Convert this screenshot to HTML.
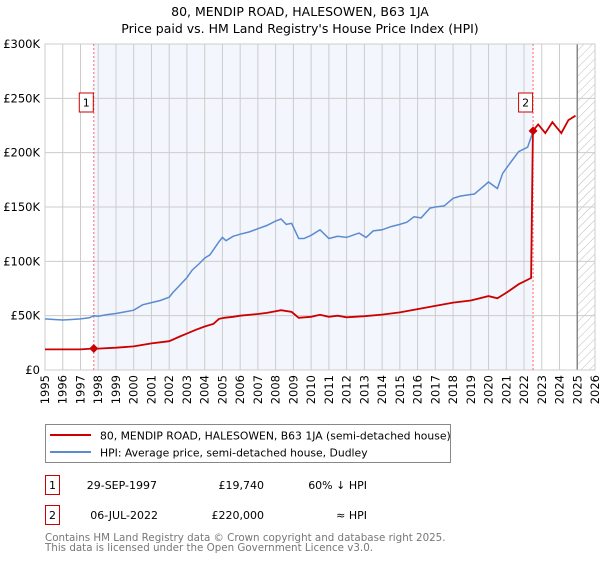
<!DOCTYPE html>
<html><head><meta charset="utf-8">
<style>
body{margin:0;background:#fff;font-family:"Liberation Sans","DejaVu Sans",sans-serif;}
svg text{font-family:"DejaVu Sans","Liberation Sans",sans-serif;}
</style></head>
<body>
<svg id="chart" width="600" height="560" viewBox="0 0 600 560" xmlns="http://www.w3.org/2000/svg">
<defs>
<pattern id="hatch" patternUnits="userSpaceOnUse" width="6" height="6" patternTransform="rotate(45)">
<line x1="0" y1="0" x2="0" y2="6" stroke="#bbb" stroke-width="1"/>
</pattern>
<clipPath id="plotclip"><rect x="45" y="44" width="550" height="326"/></clipPath>
</defs>
<text x="300" y="16" text-anchor="middle" font-size="12.5" fill="#000">80, MENDIP ROAD, HALESOWEN, B63 1JA</text>
<text x="300" y="33" text-anchor="middle" font-size="12.5" fill="#000">Price paid vs. HM Land Registry's House Price Index (HPI)</text>
<g id="plot"></g>
<g>
<rect x="45.5" y="424.5" width="405" height="38" fill="#fff" stroke="#888"/>
<line x1="50" y1="435" x2="91" y2="435" stroke="#cc0000" stroke-width="2"/>
<text x="100" y="439.5" font-size="10.8">80, MENDIP ROAD, HALESOWEN, B63 1JA (semi-detached house)</text>
<line x1="50" y1="452" x2="91" y2="452" stroke="#5b8bd0" stroke-width="2"/>
<text x="100" y="456.5" font-size="10.8">HPI: Average price, semi-detached house, Dudley</text>
</g>
<g font-size="11">
<rect x="45.5" y="475.5" width="14" height="19" fill="#fff" stroke="#cc0000"/>
<text x="52.5" y="489" text-anchor="middle">1</text>
<text x="157" y="489" text-anchor="end">29-SEP-1997</text>
<text x="264" y="489" text-anchor="end">£19,740</text>
<text x="367" y="489" text-anchor="end">60% ↓ HPI</text>
<rect x="45.5" y="505.5" width="14" height="19" fill="#fff" stroke="#cc0000"/>
<text x="52.5" y="519" text-anchor="middle">2</text>
<text x="158" y="519" text-anchor="end">06-JUL-2022</text>
<text x="264" y="519" text-anchor="end">£220,000</text>
<text x="367" y="519" text-anchor="end">≈ HPI</text>
</g>
<text x="45" y="541" font-size="10.3" fill="#777">Contains HM Land Registry data © Crown copyright and database right 2025.</text>
<text x="45" y="551" font-size="10.3" fill="#777">This data is licensed under the Open Government Licence v3.0.</text>
</svg>
<script>
const yearTicks=[1995,1996,1997,1998,1999,2000,2001,2002,2003,2004,2005,2006,2007,2008,2009,2010,2011,2012,2013,2014,2015,2016,2017,2018,2019,2020,2021,2022,2023,2024,2025,2026];
const yTicks=[0,50000,100000,150000,200000,250000,300000];
const yTickLabels=["£0","£50K","£100K","£150K","£200K","£250K","£300K"];
const hpiDates=[1995,1995.5,1996,1996.5,1997,1997.5,1997.75,1998,1998.5,1999,1999.5,2000,2000.5,2001,2001.5,2002,2002.2,2002.6,2003,2003.3,2003.7,2004,2004.3,2004.8,2005,2005.2,2005.6,2006,2006.5,2007,2007.5,2008,2008.3,2008.6,2008.9,2009.3,2009.6,2010,2010.5,2011,2011.5,2012,2012.7,2013.1,2013.5,2014,2014.5,2015,2015.4,2015.8,2016.2,2016.7,2017,2017.5,2018,2018.4,2018.8,2019.2,2019.5,2020,2020.5,2020.8,2021.2,2021.7,2022.2,2022.5];
const hpiValues=[47000,46500,46000,46500,47000,48000,50000,49500,51000,52000,53500,55000,60000,62000,64000,67000,71000,78000,85000,92000,98000,103000,106000,118000,122000,119000,123000,125000,127000,130000,133000,137000,139000,134000,135000,121000,121000,124000,129000,121000,123000,122000,126000,122000,128000,129000,132000,134000,136000,141000,140000,149000,150000,151000,158000,160000,161000,162000,166000,173000,167000,181000,190000,201000,205000,219000];
const propDates=[1995,1996,1997,1997.75,1998,1999,2000,2001,2002,2002.6,2003,2003.5,2004,2004.5,2004.8,2005.1,2005.6,2006,2007,2007.5,2008,2008.3,2008.9,2009.3,2010,2010.5,2011,2011.5,2012,2013,2014,2015,2016,2017,2018,2019,2020,2020.5,2021,2021.7,2022.4,2022.5,2022.8,2023.2,2023.6,2024.1,2024.5,2024.9];
const propValues=[19000,19000,19000,19740,19700,20500,21700,24500,26500,30800,33500,37000,40000,42500,47000,48000,49000,50000,51500,52500,54000,55000,53500,48000,49000,50800,49000,50000,48500,49500,51000,53000,56000,59000,62000,64000,68000,66000,71000,79000,84700,220000,226000,218000,228000,218000,230000,234000];
const sales=[{label:"1",date:1997.75,value:19740},{label:"2",date:2022.51,value:220000}];

const X0=45,X1=595,Y0=370,Y1=44;
const xs=t=>X0+(t-1995)/(2026-1995)*(X1-X0);
const ys=v=>Y0-v/300000*(Y0-Y1);
const NS="http://www.w3.org/2000/svg";
const plot=document.getElementById('plot');
function mk(tag,attrs,parent){const e=document.createElementNS(NS,tag);for(const k in attrs)e.setAttribute(k,attrs[k]);(parent||plot).appendChild(e);return e;}

mk('rect',{x:X0,y:Y1,width:X1-X0,height:Y0-Y1,fill:'#fff'});
const shade=mk('rect',{x:xs(sales[0].date),y:Y1,width:xs(sales[1].date)-xs(sales[0].date),height:Y0-Y1,fill:'#f3f6fd'});


const hatch=mk('rect',{x:xs(2025),y:Y1,width:X1-xs(2025),height:Y0-Y1,fill:'url(#hatch)'});



yearTicks.forEach(t=>{
  const l=mk('line',{x1:xs(t),x2:xs(t),y1:Y1,y2:Y0,stroke:'#cccccc','stroke-width':1});
  
  
  const tx=mk('text',{x:0,y:0,'font-size':11.5,'text-anchor':'end',transform:`translate(${xs(t)+4},375) rotate(-90)`});
  tx.textContent=t;
  
  
});
yTicks.forEach((v,i)=>{
  const l=mk('line',{x1:X0,x2:X1,y1:ys(v),y2:ys(v),stroke:'#cccccc','stroke-width':1});
  
  
  const tx=mk('text',{x:40,y:ys(v)+4,'font-size':11.5,'text-anchor':'end'});
  tx.textContent=yTickLabels[i];
  
  
});
const nowLine=mk('line',{x1:xs(2025),x2:xs(2025),y1:Y1,y2:Y0,stroke:'#888','stroke-width':1.5});


const frame=mk('rect',{x:X0,y:Y1,width:X1-X0,height:Y0-Y1,fill:'none',stroke:'#cccccc'});



sales.forEach(s=>{
  const l=mk('line',{x1:xs(s.date),x2:xs(s.date),y1:Y1,y2:Y0,stroke:'#ff6666','stroke-width':1,'stroke-dasharray':'2,2'});
  
  
});

function path(d,v){return d.map((t,i)=>(i?'L':'M')+xs(t).toFixed(1)+','+ys(v[i]).toFixed(1)).join('');}
const hp=mk('path',{d:path(hpiDates,hpiValues),fill:'none',stroke:'#5b8bd0','stroke-width':1.5,'clip-path':'url(#plotclip)'});


const pp=mk('path',{d:path(propDates,propValues),fill:'none',stroke:'#cc0000','stroke-width':1.8,'clip-path':'url(#plotclip)'});



sales.forEach(s=>{
  const cx=xs(s.date),cy=ys(s.value);
  const c=mk('path',{d:`M${cx},${cy-4.5}L${cx+4.5},${cy}L${cx},${cy+4.5}L${cx-4.5},${cy}Z`,fill:'#cc0000'});
  
  
  const bx=xs(s.date)-7.5;
  const r=mk('rect',{x:bx-7,y:93,width:14,height:19,fill:'#fff',stroke:'#cc0000'});
  
  
  const t=mk('text',{x:bx,y:106.5,'font-size':11,'text-anchor':'middle'});
  t.textContent=s.label;
  
  
});
</script>
</body></html>
